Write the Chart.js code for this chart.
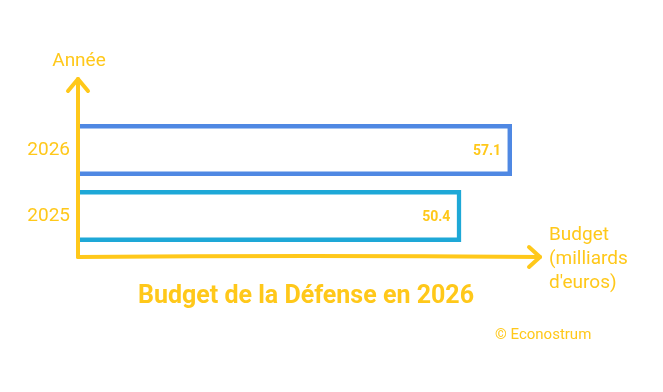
<!DOCTYPE html>
<html>
<head>
<meta charset="utf-8">
<script src="https://cdn.jsdelivr.net/npm/chart.js@4.4.1/dist/chart.umd.min.js"></script>
<style>
  html, body { margin: 0; padding: 0; background: #fff; }
  #wrap { width: 663px; height: 392px; position: relative; }
</style>
</head>
<body>
<div id="wrap"><canvas id="chart"></canvas></div>
<script>
const years = ['2026', '2025'];
const budget = [57.1, 50.4];
const barColors = ['#4f88e3', '#1ea8d7'];
const yellow = '#ffc81a';

const chartTitle = 'Budget de la Défense en 2026';
const yAxisTitle = 'Année';
const xAxisTitle = ['Budget', '(milliards', "d'euros)"];
const credit = '© Econostrum';

// axes with arrows + extra texts
const decorations = {
    id: 'decorations',
    afterDraw(chart) {
        const ctx = chart.ctx;
        const area = chart.chartArea;
        const left = area.left - 2;
        const bottom = area.bottom + 8;
        const top = 79;
        const right = area.right + 6;

        ctx.save();
        ctx.strokeStyle = yellow;
        ctx.lineWidth = 4;
        ctx.lineCap = 'round';
        ctx.lineJoin = 'round';

        // y axis
        ctx.beginPath();
        ctx.moveTo(left, bottom);
        ctx.lineTo(left, top);
        ctx.stroke();
        ctx.beginPath();
        ctx.moveTo(left - 10, top + 12);
        ctx.lineTo(left, top);
        ctx.lineTo(left + 10, top + 12);
        ctx.stroke();

        // x axis, slightly hand drawn
        ctx.beginPath();
        ctx.moveTo(left, bottom);
        ctx.quadraticCurveTo((left + right) / 2, bottom - 2, right, bottom);
        ctx.stroke();
        ctx.beginPath();
        ctx.moveTo(right - 11, bottom - 10);
        ctx.lineTo(right, bottom);
        ctx.lineTo(right - 11, bottom + 10);
        ctx.stroke();

        ctx.fillStyle = yellow;
        ctx.textBaseline = 'middle';

        ctx.font = '19px Roboto';
        ctx.textAlign = 'center';
        ctx.fillText(yAxisTitle, left + 1, 61);

        ctx.textAlign = 'left';
        xAxisTitle.forEach((line, i) => {
            ctx.fillText(line, right + 9, 235 + i * 24);
        });

        ctx.font = 'bold 25px Roboto';
        ctx.textAlign = 'center';
        ctx.fillText(chartTitle, 306, 297);

        ctx.font = '15px Roboto';
        ctx.textAlign = 'left';
        ctx.fillText(credit, 495, 335);
        ctx.restore();
    }
};

// value labels inside the bars
const valueLabels = {
    id: 'valueLabels',
    afterDatasetsDraw(chart) {
        const ctx = chart.ctx;
        const meta = chart.getDatasetMeta(0);
        ctx.save();
        ctx.fillStyle = yellow;
        ctx.font = 'bold 14px Roboto';
        ctx.textAlign = 'right';
        ctx.textBaseline = 'middle';
        meta.data.forEach((bar, i) => {
            ctx.fillText(budget[i].toFixed(1), bar.x - 11, bar.y + 1);
        });
        ctx.restore();
    }
};

document.addEventListener('DOMContentLoaded', function () {
    const ctx = document.getElementById('chart').getContext('2d');

    new Chart(ctx, {
        type: 'bar',
        data: {
            labels: years,
            datasets: [{
                data: budget,
                backgroundColor: 'rgba(255,255,255,0)',
                borderColor: barColors,
                borderWidth: 4.5,
                barPercentage: 0.79,
                categoryPercentage: 1
            }]
        },
        options: {
            indexAxis: 'y',
            responsive: true,
            maintainAspectRatio: false,
            animation: false,
            layout: {
                padding: { left: 0, top: 117, right: 129, bottom: 143 }
            },
            scales: {
                x: {
                    display: false,
                    min: 0,
                    max: 60
                },
                y: {
                    grid: { display: false, drawTicks: false },
                    border: { display: false },
                    ticks: {
                        color: yellow,
                        font: { family: 'Roboto', size: 19 },
                        padding: 10
                    },
                    afterFit: function (scale) {
                        scale.width = 80;
                    }
                }
            },
            plugins: {
                legend: { display: false },
                tooltip: { enabled: false }
            }
        },
        plugins: [valueLabels, decorations]
    });
});
</script>
</body>
</html>
